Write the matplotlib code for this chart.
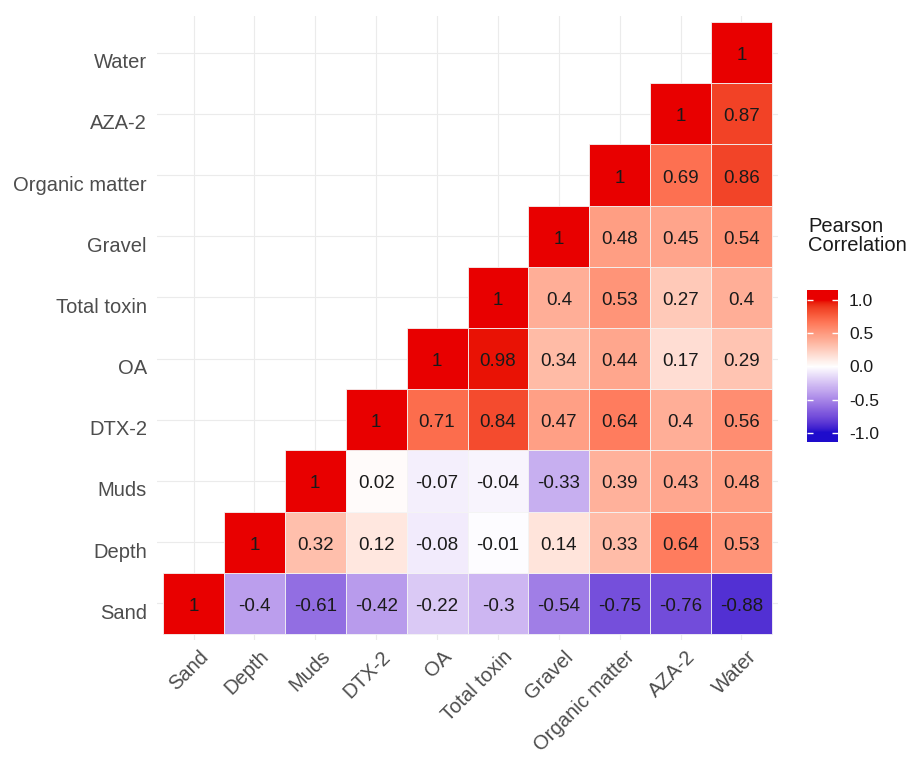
import matplotlib
matplotlib.use("Agg")
import matplotlib.pyplot as plt
import numpy as np
from matplotlib.colors import ListedColormap, Normalize
from matplotlib import transforms

plt.rcParams['font.family'] = ['Liberation Sans', 'DejaVu Sans']

variables = ["Sand", "Depth", "Muds", "DTX-2", "OA", "Total toxin",
             "Gravel", "Organic matter", "AZA-2", "Water"]

# upper triangle rows, row i starts at column i
row_sand = [1, -0.4, -0.61, -0.42, -0.22, -0.3, -0.54, -0.75, -0.76, -0.88]
row_depth = [1, 0.32, 0.12, -0.08, -0.01, 0.14, 0.33, 0.64, 0.53]
row_muds = [1, 0.02, -0.07, -0.04, -0.33, 0.39, 0.43, 0.48]
row_dtx2 = [1, 0.71, 0.84, 0.47, 0.64, 0.4, 0.56]
row_oa = [1, 0.98, 0.34, 0.44, 0.17, 0.29]
row_tt = [1, 0.4, 0.53, 0.27, 0.4]
row_gravel = [1, 0.48, 0.45, 0.54]
row_om = [1, 0.69, 0.86]
row_aza2 = [1, 0.87]
row_water = [1]
rows = [row_sand, row_depth, row_muds, row_dtx2, row_oa, row_tt,
        row_gravel, row_om, row_aza2, row_water]

legend_breaks = [1.0, 0.5, 0.0, -0.5, -1.0]

n = len(variables)

M = np.array([[0.4124, 0.3576, 0.1805],
              [0.2126, 0.7152, 0.0722],
              [0.0193, 0.1192, 0.9505]])
WP = np.array([0.95047, 1.0, 1.08883])


# gradient2 in Lab space, like ggplot
def srgb_to_lab(rgb):
    rgb = np.asarray(rgb, float)
    lin = np.where(rgb <= 0.04045, rgb / 12.92, ((rgb + 0.055) / 1.055) ** 2.4)
    t = (M @ lin) / WP
    f = np.where(t > 216 / 24389, np.cbrt(t), (24389 / 27 * t + 16) / 116)
    return np.array([116 * f[1] - 16, 500 * (f[0] - f[1]), 200 * (f[1] - f[2])])


def lab_to_srgb(lab):
    L, a, b = lab
    fy = (L + 16) / 116
    fx = fy + a / 500
    fz = fy - b / 200
    def finv(f):
        return np.where(f ** 3 > 216 / 24389, f ** 3, (116 * f - 16) / (24389 / 27))
    xyz = np.array([finv(fx), finv(fy), finv(fz)]) * WP
    lin = np.clip(np.linalg.inv(M) @ xyz, 0, 1)
    rgb = np.where(lin <= 0.0031308, lin * 12.92, 1.055 * lin ** (1 / 2.4) - 0.055)
    return np.clip(rgb, 0, 1)


low = srgb_to_lab([0.12, 0.05, 0.80])
mid = srgb_to_lab([1.0, 1.0, 1.0])
high = srgb_to_lab([0.91, 0.0, 0.0])
cols = []
for v in np.linspace(-1, 1, 256):
    if v < 0:
        lab = mid + (low - mid) * (-v)
    else:
        lab = mid + (high - mid) * v
    cols.append(lab_to_srgb(lab))
cmap = ListedColormap(cols)
norm = Normalize(-1, 1)

fig = plt.figure(figsize=(9.12, 7.57), dpi=100)
ax = fig.add_axes([157 / 912, 117 / 757, 621 / 912, 624 / 757])

num_off = transforms.ScaledTranslation(0, -3 / 100, fig.dpi_scale_trans)
for i, r in enumerate(rows):
    xs = np.arange(i, n)
    ax.bar(xs, 1, bottom=i - 0.5, width=1, color=cmap(norm(np.array(r))),
           edgecolor='#f4f4f4', linewidth=0.6, zorder=2)
    for x, v in zip(xs, r):
        ax.text(x, i, f"{v:g}", ha='center', va='center', fontsize=13.5,
                color='#1a1a1a', zorder=3, transform=ax.transData + num_off)

ax.set_xlim(-0.6, n - 0.4)
ax.set_ylim(-0.6, n - 0.4)
ax.set_xticks(range(n))
ax.set_yticks(range(n))
ax.set_xticklabels([])
ax.set_yticklabels([])
ax.tick_params(length=0)
for s in ax.spines.values():
    s.set_visible(False)
ax.grid(True, color='#EBEBEB', linewidth=0.8, zorder=0)
ax.set_axisbelow(True)

# y labels
ylab_tr = transforms.blended_transform_factory(ax.transAxes, ax.transData) + \
    transforms.ScaledTranslation(-10 / 100, -10 / 100, fig.dpi_scale_trans)
for i, name in enumerate(variables):
    ax.text(0, i, name, ha='right', va='center', fontsize=14.5,
            color='#4D4D4D', transform=ylab_tr)

# x labels
xlab_tr = transforms.blended_transform_factory(ax.transData, ax.transAxes) + \
    transforms.ScaledTranslation(5 / 100, -7 / 100, fig.dpi_scale_trans)
for j, name in enumerate(variables):
    ax.text(j, 0, name, ha='right', va='top', rotation=45,
            rotation_mode='anchor', fontsize=14.5, color='#4D4D4D',
            transform=xlab_tr)

# legend
fig.text(808 / 912, 1 - 236 / 757, "Pearson\nCorrelation", ha='left',
         va='center', fontsize=14.5, color='#1a1a1a', linespacing=1.05)

cax = fig.add_axes([807 / 912, 315 / 757, 31 / 912, 152 / 757])
top, bot = 1.15, -1.14
grad = np.clip(np.linspace(top, bot, 300), -1, 1).reshape(-1, 1)
cax.imshow(grad, cmap=cmap, vmin=-1, vmax=1, aspect='auto',
           extent=[0, 1, bot, top], origin='upper')
cax.set_xlim(0, 1)
cax.set_ylim(bot, top)
cax.hlines(legend_breaks, 0, 0.2, color='white', linewidth=1)
cax.hlines(legend_breaks, 0.8, 1, color='white', linewidth=1)
cax.set_xticks([])
cax.yaxis.tick_right()
cax.set_yticks(legend_breaks)
cax.set_yticklabels([f"{b:.1f}" for b in legend_breaks], fontsize=12.5,
                    color='#1a1a1a')
cax.tick_params(axis='y', length=0, pad=8)
for s in cax.spines.values():
    s.set_visible(False)

fig.savefig("out.png", dpi=100)
